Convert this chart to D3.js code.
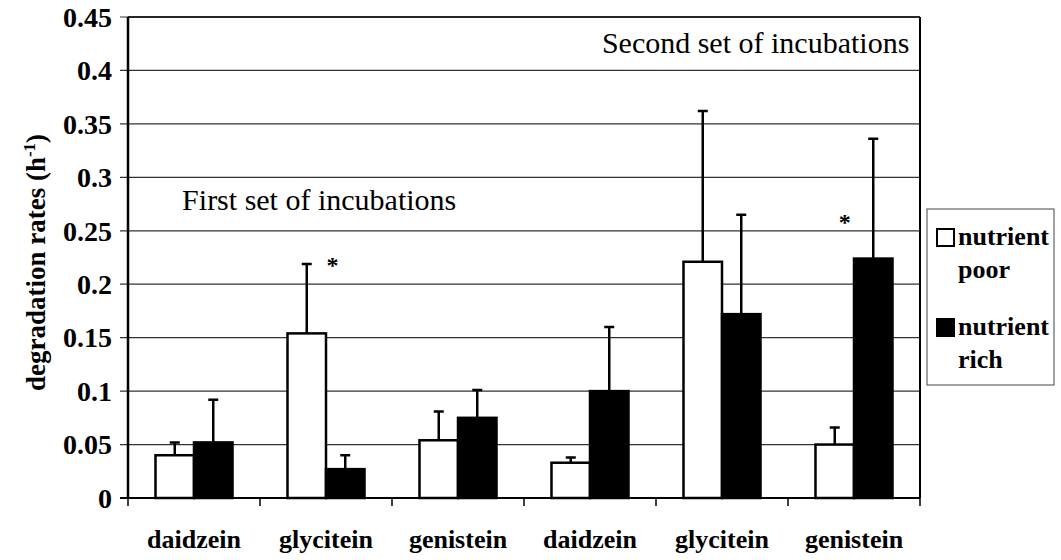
<!DOCTYPE html>
<html>
<head>
<meta charset="utf-8">
<script src="https://cdn.jsdelivr.net/npm/d3@7"></script>
<style>
  body { margin: 0; background: #fff; }
</style>
</head>
<body>
<div id="chart"></div>
<script>
// data
const categories = ["daidzein", "glycitein", "genistein", "daidzein", "glycitein", "genistein"];
const series = ["nutrient poor", "nutrient rich"];
const poorValues = [0.040, 0.154, 0.054, 0.033, 0.221, 0.050];
const poorErrors = [0.012, 0.065, 0.027, 0.005, 0.141, 0.016];
const richValues = [0.052, 0.027, 0.075, 0.100, 0.172, 0.224];
const richErrors = [0.040, 0.013, 0.026, 0.060, 0.093, 0.112];
const yTicks = [0, 0.05, 0.1, 0.15, 0.2, 0.25, 0.3, 0.35, 0.4, 0.45];
const stars = [{cat: 1, pos: 0.55, v: 0.227}, {cat: 5, pos: 0.43, v: 0.268}];
const notes = [
  {text: "First set of incubations", cat: 0, pos: 0.41, v: 0.269},
  {text: "Second set of incubations", cat: 3, pos: 0.59, v: 0.416}
];

const width = 1061, height = 560;
const plotLeft = 128, plotRight = 920, plotTop = 17, plotBottom = 498;
const serif = "'Liberation Serif'";

const svg = d3.select("#chart").append("svg")
  .attr("width", width)
  .attr("height", height);

const y = d3.scaleLinear().domain([0, 0.45]).range([plotBottom, plotTop]);
const x0 = d3.scaleBand().domain(d3.range(categories.length)).range([plotLeft, plotRight]);
const x1 = d3.scaleBand().domain(series).range([0, x0.bandwidth()]).paddingOuter(0.714);

// gridlines (extend left as tick marks)
svg.append("g").selectAll("line")
  .data(yTicks)
  .join("line")
  .attr("x1", plotLeft - 8)
  .attr("x2", plotRight)
  .attr("y1", d => y(d))
  .attr("y2", d => y(d))
  .attr("stroke", "#333")
  .attr("stroke-width", 1.2);

// y tick labels
svg.append("g").selectAll("text")
  .data(yTicks)
  .join("text")
  .attr("x", 112)
  .attr("y", d => y(d))
  .attr("dy", "0.35em")
  .attr("text-anchor", "end")
  .style("font-family", serif)
  .style("font-size", "28px")
  .style("font-weight", "bold")
  .text(d => d);

// frame
svg.append("line").attr("x1", plotRight).attr("x2", plotRight).attr("y1", plotTop).attr("y2", plotBottom)
  .attr("stroke", "#000").attr("stroke-width", 2);
svg.append("line").attr("x1", plotLeft).attr("x2", plotRight).attr("y1", plotTop).attr("y2", plotTop)
  .attr("stroke", "#000").attr("stroke-width", 1.5);

// bars
const rows = categories.map((c, i) => [
  {key: series[0], i, v: poorValues[i], e: poorErrors[i]},
  {key: series[1], i, v: richValues[i], e: richErrors[i]}
]);

const groups = svg.append("g").selectAll("g")
  .data(rows)
  .join("g")
  .attr("transform", (d, i) => `translate(${x0(i)},0)`);

groups.selectAll("rect")
  .data(d => d)
  .join("rect")
  .attr("x", d => x1(d.key))
  .attr("width", x1.bandwidth())
  .attr("y", d => y(d.v))
  .attr("height", d => y(0) - y(d.v))
  .attr("fill", d => d.key === series[0] ? "#fff" : "#000")
  .attr("stroke", "#000")
  .attr("stroke-width", 2.5);

// error bars
groups.selectAll("path.err")
  .data(d => d)
  .join("path")
  .attr("class", "err")
  .attr("d", d => {
    const cx = x1(d.key) + x1.bandwidth() / 2;
    return `M${cx},${y(d.v)}V${y(d.v + d.e)}M${cx - 5},${y(d.v + d.e)}H${cx + 5}`;
  })
  .attr("fill", "none")
  .attr("stroke", "#000")
  .attr("stroke-width", 2.5);

// axes lines
svg.append("line").attr("x1", plotLeft).attr("x2", plotLeft).attr("y1", plotTop).attr("y2", plotBottom)
  .attr("stroke", "#000").attr("stroke-width", 2.5);
svg.append("line").attr("x1", plotLeft - 8).attr("x2", plotRight).attr("y1", plotBottom).attr("y2", plotBottom)
  .attr("stroke", "#000").attr("stroke-width", 1.8);

// x ticks at category boundaries
svg.append("g").selectAll("line")
  .data(d3.range(categories.length + 1))
  .join("line")
  .attr("x1", d => plotLeft + d * x0.step())
  .attr("x2", d => plotLeft + d * x0.step())
  .attr("y1", plotBottom)
  .attr("y2", plotBottom + 8)
  .attr("stroke", "#000")
  .attr("stroke-width", 1.5);

// x labels
svg.append("g").selectAll("text")
  .data(categories)
  .join("text")
  .attr("x", (d, i) => x0(i) + x0.bandwidth() / 2)
  .attr("y", 548)
  .attr("text-anchor", "middle")
  .style("font-family", serif)
  .style("font-size", "26px")
  .style("font-weight", "bold")
  .text(d => d);

// y label
const yl = svg.append("text")
  .attr("transform", `translate(45,${(plotTop + plotBottom) / 2 + 5}) rotate(-90)`)
  .attr("text-anchor", "middle")
  .style("font-family", serif)
  .style("font-size", "27px")
  .style("font-weight", "bold");
yl.append("tspan").text("degradation rates (h");
yl.append("tspan").attr("dy", -10).style("font-size", "17px").text("-1");
yl.append("tspan").attr("dy", 10).text(")");

// annotations
svg.append("g").selectAll("text")
  .data(notes)
  .join("text")
  .attr("x", d => x0(d.cat) + d.pos * x0.step())
  .attr("y", d => y(d.v))
  .style("font-family", serif)
  .style("font-size", "30px")
  .text(d => d.text);

svg.append("g").selectAll("text")
  .data(stars)
  .join("text")
  .attr("x", d => x0(d.cat) + d.pos * x0.step())
  .attr("y", d => y(d.v))
  .attr("dy", "0.75em")
  .attr("text-anchor", "middle")
  .style("font-family", serif)
  .style("font-size", "24px")
  .style("font-weight", "bold")
  .text("*");

// legend
const lg = svg.append("g").attr("transform", "translate(927,209)");
lg.append("rect")
  .attr("width", 127).attr("height", 176)
  .attr("fill", "#fff").attr("stroke", "#444").attr("stroke-width", 1);
const items = lg.selectAll("g")
  .data(series)
  .join("g")
  .attr("transform", (d, i) => `translate(0,${i * 90})`);
items.append("rect")
  .attr("x", 10).attr("y", 20).attr("width", 17).attr("height", 17)
  .attr("fill", (d, i) => i === 0 ? "#fff" : "#000")
  .attr("stroke", "#000").attr("stroke-width", 2);
items.append("text")
  .attr("x", 31).attr("y", 36)
  .style("font-family", serif)
  .style("font-size", "26px").style("font-weight", "bold")
  .text(d => d.split(" ")[0]);
items.append("text")
  .attr("x", 31).attr("y", 69)
  .style("font-family", serif)
  .style("font-size", "26px").style("font-weight", "bold")
  .text(d => d.split(" ")[1]);
</script>
</body>
</html>
